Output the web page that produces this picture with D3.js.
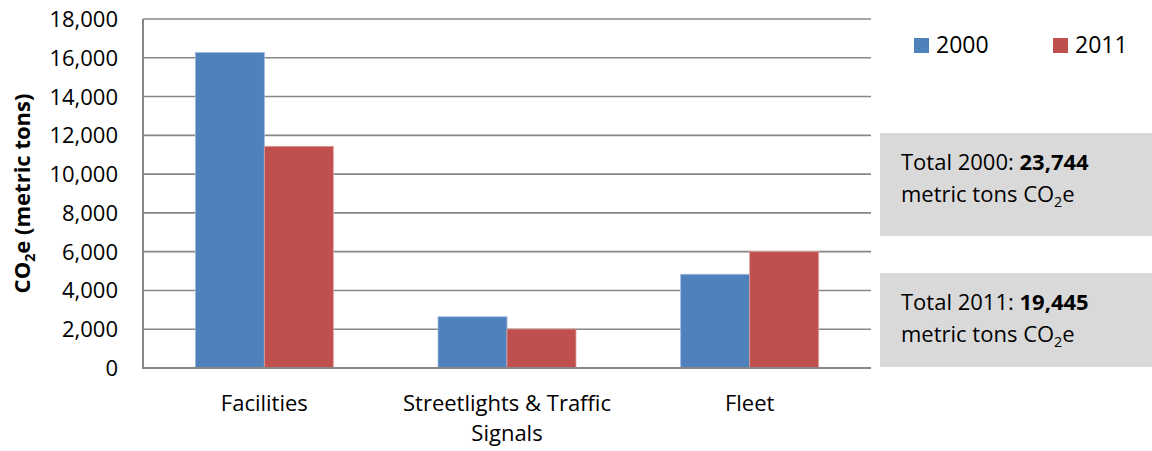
<!DOCTYPE html>
<html>
<head>
<meta charset="utf-8">
<script src="https://cdn.jsdelivr.net/npm/d3@7"></script>
<style>
  html, body { margin: 0; padding: 0; background: #fff; }
  svg { display: block; font-family: "Open Sans", "Liberation Sans", sans-serif; }
</style>
</head>
<body>
<svg id="chart" width="1152" height="451"></svg>
<script>
const categories = ["Facilities", "Streetlights & Traffic Signals", "Fleet"];
const categoryLines = [["Facilities"], ["Streetlights & Traffic", "Signals"], ["Fleet"]];
const seriesNames = ["2000", "2011"];
const values2000 = [16270, 2640, 4834];
const values2011 = [11434, 2011, 6000];
const yTicks = [0, 2000, 4000, 6000, 8000, 10000, 12000, 14000, 16000, 18000];
const totals = [
  { label: "Total 2000: ", value: "23,744" },
  { label: "Total 2011: ", value: "19,445" }
];
const colors = ["#4F81BD", "#C0504D"];

const svg = d3.select("#chart");
const margin = { left: 143, right: 281, top: 19, bottom: 83 };
const W = 1152, H = 451;
const x0 = margin.left, x1 = W - margin.right, yTop = margin.top, yBot = H - margin.bottom;

const x = d3.scaleBand().domain(categories).range([x0, x1]).paddingInner(0).paddingOuter(0);
const xs = d3.scaleBand().domain(seriesNames).range([0, x.bandwidth()]).paddingInner(0).paddingOuter(0.759);
const y = d3.scaleLinear().domain([0, 18000]).range([yBot, yTop]);

const fs = 22;

// gridlines
svg.append("g").selectAll("line").data(yTicks.filter(d => d > 0)).join("line")
  .attr("x1", x0).attr("x2", x1)
  .attr("y1", d => y(d)).attr("y2", d => y(d))
  .attr("stroke", "#878787").attr("stroke-width", 1.6);

// bars
const data = categories.map((c, i) => ({ c, vals: [values2000[i], values2011[i]] }));
const groups = svg.append("g").selectAll("g").data(data).join("g")
  .attr("transform", d => `translate(${x(d.c)},0)`);
groups.selectAll("rect").data(d => d.vals.map((v, j) => ({ v, s: seriesNames[j], j }))).join("rect")
  .attr("x", d => xs(d.s))
  .attr("width", xs.bandwidth())
  .attr("y", d => y(d.v))
  .attr("height", d => y(0) - y(d.v))
  .attr("fill", d => colors[d.j])
  .attr("stroke", d => d.j === 0 ? "#9DB8DD" : "#DC9E9C")
  .attr("stroke-width", 0.8);

// y axis
const yAxis = d3.axisLeft(y).tickValues(yTicks).tickSize(0).tickPadding(25)
  .tickFormat(d3.format(","));
const ga = svg.append("g").attr("transform", `translate(${x0},0)`).call(yAxis);
ga.select(".domain").remove();
ga.selectAll("text").attr("font-size", fs).attr("fill", "#000").attr("font-family", "Open Sans").attr("dy", "0.34em");

// axis lines
svg.append("line").attr("x1", x0).attr("x2", x0).attr("y1", yTop).attr("y2", yBot + 1)
  .attr("stroke", "#878787").attr("stroke-width", 2);
svg.append("line").attr("x1", x0).attr("x2", x1).attr("y1", yBot).attr("y2", yBot)
  .attr("stroke", "#878787").attr("stroke-width", 2);

// x labels
const xl = svg.append("g").selectAll("text").data(categories).join("text")
  .attr("x", d => x(d) + x.bandwidth() / 2)
  .attr("y", 411)
  .attr("text-anchor", "middle").attr("font-size", fs).attr("fill", "#000");
xl.each(function (d, i) {
  d3.select(this).selectAll("tspan").data(categoryLines[i]).join("tspan")
    .attr("x", x(d) + x.bandwidth() / 2)
    .attr("dy", (t, k) => k === 0 ? 0 : 30)
    .text(t => t);
});

// y title
const yt = svg.append("text")
  .attr("transform", `translate(30,${(yTop + yBot) / 2}) rotate(-90)`)
  .attr("text-anchor", "middle").attr("font-size", fs).attr("font-weight", "bold").attr("fill", "#000");
yt.append("tspan").text("CO");
yt.append("tspan").text("2").attr("font-size", fs * 0.65).attr("dy", 5);
yt.append("tspan").text("e (metric tons)").attr("dy", -5);

// legend
const lg = svg.append("g").selectAll("g").data(seriesNames).join("g")
  .attr("transform", (d, i) => `translate(${914 + i * 139},38)`);
lg.append("rect").attr("width", 15).attr("height", 15).attr("fill", (d, i) => colors[i]);
lg.append("text").attr("x", 22).attr("y", 15).attr("font-size", fs + 1).attr("fill", "#000").text(d => d);

// total boxes
const boxes = [{ y: 133, h: 103 }, { y: 273, h: 94 }];
const tb = svg.append("g").selectAll("g").data(totals).join("g");
tb.append("rect").attr("x", 880).attr("y", (d, i) => boxes[i].y).attr("width", 272)
  .attr("height", (d, i) => boxes[i].h).attr("fill", "#D9D9D9");
tb.each(function (d, i) {
  const g = d3.select(this);
  const by = boxes[i].y;
  const t1 = g.append("text").attr("x", 901).attr("y", by + 37).attr("font-size", fs).attr("fill", "#000");
  t1.append("tspan").text(d.label);
  t1.append("tspan").text(d.value).attr("font-weight", "bold");
  const t2 = g.append("text").attr("x", 901).attr("y", by + 69).attr("font-size", fs).attr("fill", "#000");
  t2.append("tspan").text("metric tons CO");
  t2.append("tspan").text("2").attr("font-size", fs * 0.65).attr("dy", 5);
  t2.append("tspan").text("e").attr("dy", -5);
});
</script>
</body>
</html>
